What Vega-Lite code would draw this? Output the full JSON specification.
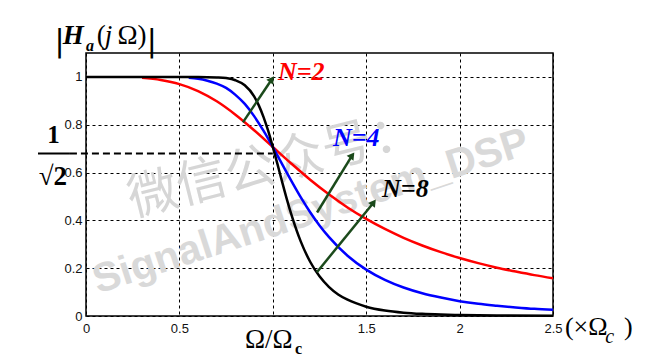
{
  "$schema": "https://vega.github.io/schema/vega-lite/v6.json",
  "width": 467,
  "height": 263,
  "autosize": {"type": "none"},
  "padding": {"left": 86, "top": 53, "right": 100, "bottom": 45},
  "background": "white",
  "config": {"view": {"stroke": "black", "strokeWidth": 1.5}},
  "datasets": {
    "curves": [
      {"N": "N=2", "x": 0.3, "y": 0.996}, {"N": "N=2", "x": 0.4, "y": 0.987}, {"N": "N=2", "x": 0.5, "y": 0.970},
      {"N": "N=2", "x": 0.6, "y": 0.941}, {"N": "N=2", "x": 0.7, "y": 0.898}, {"N": "N=2", "x": 0.8, "y": 0.842},
      {"N": "N=2", "x": 0.9, "y": 0.777}, {"N": "N=2", "x": 1.0, "y": 0.707}, {"N": "N=2", "x": 1.1, "y": 0.637},
      {"N": "N=2", "x": 1.2, "y": 0.570}, {"N": "N=2", "x": 1.3, "y": 0.509}, {"N": "N=2", "x": 1.4, "y": 0.454},
      {"N": "N=2", "x": 1.5, "y": 0.406}, {"N": "N=2", "x": 1.6, "y": 0.364}, {"N": "N=2", "x": 1.7, "y": 0.327},
      {"N": "N=2", "x": 1.8, "y": 0.295}, {"N": "N=2", "x": 1.9, "y": 0.267}, {"N": "N=2", "x": 2.0, "y": 0.2425},
      {"N": "N=2", "x": 2.1, "y": 0.221}, {"N": "N=2", "x": 2.2, "y": 0.202}, {"N": "N=2", "x": 2.3, "y": 0.186},
      {"N": "N=2", "x": 2.4, "y": 0.171}, {"N": "N=2", "x": 2.5, "y": 0.158},
      {"N": "N=4", "x": 0.55, "y": 0.996}, {"N": "N=4", "x": 0.6, "y": 0.992}, {"N": "N=4", "x": 0.65, "y": 0.984},
      {"N": "N=4", "x": 0.7, "y": 0.972}, {"N": "N=4", "x": 0.75, "y": 0.954}, {"N": "N=4", "x": 0.8, "y": 0.925},
      {"N": "N=4", "x": 0.85, "y": 0.887}, {"N": "N=4", "x": 0.9, "y": 0.836}, {"N": "N=4", "x": 0.95, "y": 0.775},
      {"N": "N=4", "x": 0.975, "y": 0.742}, {"N": "N=4", "x": 1.0, "y": 0.707}, {"N": "N=4", "x": 1.025, "y": 0.671},
      {"N": "N=4", "x": 1.05, "y": 0.635}, {"N": "N=4", "x": 1.1, "y": 0.564}, {"N": "N=4", "x": 1.15, "y": 0.496},
      {"N": "N=4", "x": 1.2, "y": 0.434}, {"N": "N=4", "x": 1.25, "y": 0.379}, {"N": "N=4", "x": 1.3, "y": 0.331},
      {"N": "N=4", "x": 1.4, "y": 0.252}, {"N": "N=4", "x": 1.5, "y": 0.194}, {"N": "N=4", "x": 1.6, "y": 0.151},
      {"N": "N=4", "x": 1.7, "y": 0.119}, {"N": "N=4", "x": 1.8, "y": 0.095}, {"N": "N=4", "x": 1.9, "y": 0.077},
      {"N": "N=4", "x": 2.0, "y": 0.062}, {"N": "N=4", "x": 2.1, "y": 0.051}, {"N": "N=4", "x": 2.2, "y": 0.043},
      {"N": "N=4", "x": 2.3, "y": 0.036}, {"N": "N=4", "x": 2.4, "y": 0.030}, {"N": "N=4", "x": 2.5, "y": 0.026},
      {"N": "N=8", "x": 0.0, "y": 1.0}, {"N": "N=8", "x": 0.5, "y": 1.0}, {"N": "N=8", "x": 0.6, "y": 1.0},
      {"N": "N=8", "x": 0.7, "y": 0.998}, {"N": "N=8", "x": 0.75, "y": 0.995}, {"N": "N=8", "x": 0.8, "y": 0.986},
      {"N": "N=8", "x": 0.85, "y": 0.965}, {"N": "N=8", "x": 0.9, "y": 0.919}, {"N": "N=8", "x": 0.925, "y": 0.881},
      {"N": "N=8", "x": 0.95, "y": 0.833}, {"N": "N=8", "x": 0.975, "y": 0.775}, {"N": "N=8", "x": 1.0, "y": 0.707},
      {"N": "N=8", "x": 1.025, "y": 0.635}, {"N": "N=8", "x": 1.05, "y": 0.561}, {"N": "N=8", "x": 1.075, "y": 0.489},
      {"N": "N=8", "x": 1.1, "y": 0.423}, {"N": "N=8", "x": 1.15, "y": 0.311}, {"N": "N=8", "x": 1.2, "y": 0.227},
      {"N": "N=8", "x": 1.25, "y": 0.166}, {"N": "N=8", "x": 1.3, "y": 0.122}, {"N": "N=8", "x": 1.35, "y": 0.090},
      {"N": "N=8", "x": 1.4, "y": 0.068}, {"N": "N=8", "x": 1.5, "y": 0.039}, {"N": "N=8", "x": 1.6, "y": 0.023},
      {"N": "N=8", "x": 1.7, "y": 0.014}, {"N": "N=8", "x": 1.8, "y": 0.009}, {"N": "N=8", "x": 1.9, "y": 0.006},
      {"N": "N=8", "x": 2.0, "y": 0.004}, {"N": "N=8", "x": 2.2, "y": 0.002}, {"N": "N=8", "x": 2.5, "y": 0.001}
    ],
    "arrows": [
      {"x": 0.84, "y": 0.81, "x2": 0.995, "y2": 0.99},
      {"x": 1.237, "y": 0.433, "x2": 1.425, "y2": 0.672},
      {"x": 1.236, "y": 0.183, "x2": 1.54, "y2": 0.475}
    ],
    "labels": [
      {"N": "N=2", "x": 1.028, "y": 1.02, "text": "N=2"},
      {"N": "N=4", "x": 1.322, "y": 0.746, "text": "N=4"},
      {"N": "N=8", "x": 1.585, "y": 0.533, "text": "N=8"}
    ]
  },
  "encoding": {
    "x": {"field": "x", "type": "quantitative",
      "scale": {"domain": [0, 2.5], "nice": false, "zero": false},
      "axis": {"values": [0, 0.5, 1, 1.5, 2, 2.5], "title": null, "grid": true, "gridDash": [3, 3], "gridColor": "black", "gridOpacity": 1, "gridWidth": 1,
        "domain": false, "ticks": false, "labelFont": "Liberation Sans", "labelFontSize": 13, "labelColor": "#111", "labelPadding": 6,
        "labelFlush": false, "labelOverlap": false, "labelExpr": "datum.value == 0 ? '0' : datum.value == 1 ? '' : format(datum.value, '.1~f')"}},
    "y": {"field": "y", "type": "quantitative",
      "scale": {"domain": [0, 1.1], "nice": false, "zero": false},
      "axis": {"values": [0, 0.2, 0.4, 0.6, 0.8, 1], "title": null, "grid": true, "gridDash": [3, 3], "gridColor": "black", "gridOpacity": 1, "gridWidth": 1,
        "domain": false, "ticks": false, "labelFont": "Liberation Sans", "labelFontSize": 13, "labelColor": "#111", "labelPadding": 4,
        "labelFlush": false, "labelOverlap": false, "labelExpr": "datum.value == 0 ? '0' : format(datum.value, '.1~f')"}}
  },
  "layer": [
    {"data": {"values": [{"x": 1.01, "y": 0.63, "text": "微信公众号："}]},
     "mark": {"type": "text", "font": "Noto Sans CJK SC", "fontSize": 50, "angle": 346, "color": "#d6d6d6", "align": "center", "baseline": "middle"},
     "encoding": {"text": {"field": "text"}}},
    {"data": {"values": [{"x": 1.205, "y": 0.435, "text": "SignalAndSystem_DSP"}]},
     "mark": {"type": "text", "font": "Liberation Sans", "fontWeight": "bold", "fontSize": 41, "angle": 342, "color": "#d9d9d9", "align": "center", "baseline": "middle"},
     "encoding": {"text": {"field": "text"}}},
    {"data": {"values": [{"x": -0.086, "x2": 1.0, "y": 0.68}]},
     "mark": {"type": "rule", "color": "black", "strokeWidth": 2, "strokeDash": [7, 4]},
     "encoding": {"x2": {"field": "x2"}}},
    {"data": {"values": [{"x": -0.257, "x2": -0.086, "y": 0.68}]},
     "mark": {"type": "rule", "color": "black", "strokeWidth": 2},
     "encoding": {"x2": {"field": "x2"}}},
    {"data": {"name": "curves"},
     "mark": {"type": "line", "strokeWidth": 2.5, "interpolate": "monotone"},
     "encoding": {"color": {"field": "N", "type": "nominal", "scale": {"domain": ["N=2", "N=4", "N=8"], "range": ["#ff0000", "#0000ff", "#000000"]}, "legend": null},
       "order": {"field": "x", "type": "quantitative"}}},
    {"data": {"name": "arrows"},
     "mark": {"type": "rule", "color": "#1b4a1b", "strokeWidth": 2.5},
     "encoding": {"x2": {"field": "x2"}, "y2": {"field": "y2"}}},
    {"data": {"name": "arrows"},
     "mark": {"type": "point", "shape": "triangle-up", "filled": true, "color": "#1b4a1b", "opacity": 1, "size": 70, "angle": 36},
     "encoding": {"x": {"field": "x2", "type": "quantitative"}, "y": {"field": "y2", "type": "quantitative"}}},
    {"data": {"name": "labels"},
     "mark": {"type": "text", "font": "Liberation Serif", "fontWeight": "bold", "fontStyle": "italic", "fontSize": 26, "align": "left", "baseline": "middle"},
     "encoding": {"text": {"field": "text"}, "color": {"field": "N", "type": "nominal", "legend": null}}},
    {"data": {"values": [{"x": -0.174, "y": 0.725, "text": "1"}]},
     "mark": {"type": "text", "font": "Liberation Serif", "fontWeight": "bold", "fontSize": 25, "align": "center", "baseline": "alphabetic", "color": "black"},
     "encoding": {"text": {"field": "text"}}},
    {"data": {"values": [{"x": -0.177, "y": 0.55, "text": "√2"}]},
     "mark": {"type": "text", "font": "Liberation Serif", "fontWeight": "bold", "fontSize": 27, "align": "center", "baseline": "alphabetic", "color": "black"},
     "encoding": {"text": {"field": "text"}}},
    {"data": {"values": [{"x": -0.168, "y": 1.108, "text": "|"}, {"x": 0.325, "y": 1.108, "text": "|"}]},
     "mark": {"type": "text", "font": "DejaVu Sans", "fontSize": 30, "align": "left", "baseline": "alphabetic", "color": "black"},
     "encoding": {"text": {"field": "text"}}},
    {"data": {"values": [{"x": -0.125, "y": 1.1375, "text": "H"}]},
     "mark": {"type": "text", "font": "Liberation Serif", "fontWeight": "bold", "fontStyle": "italic", "fontSize": 27, "align": "left", "baseline": "alphabetic", "color": "black"},
     "encoding": {"text": {"field": "text"}}},
    {"data": {"values": [{"x": 0.0, "y": 1.11, "text": "a"}]},
     "mark": {"type": "text", "font": "Liberation Serif", "fontWeight": "bold", "fontStyle": "italic", "fontSize": 16, "align": "left", "baseline": "alphabetic", "color": "black"},
     "encoding": {"text": {"field": "text"}}},
    {"data": {"values": [{"x": 1.119, "y": -0.16, "text": "c"}]},
     "mark": {"type": "text", "font": "Liberation Serif", "fontWeight": "bold", "fontSize": 16, "align": "left", "baseline": "alphabetic", "color": "black"},
     "encoding": {"text": {"field": "text"}}},
    {"data": {"values": [{"x": 0.057, "y": 1.1375, "text": "("}, {"x": 0.168, "y": 1.1375, "text": "Ω)"}]},
     "mark": {"type": "text", "font": "Liberation Serif", "fontSize": 27, "align": "left", "baseline": "alphabetic", "color": "black"},
     "encoding": {"text": {"field": "text"}}},
    {"data": {"values": [{"x": 0.1, "y": 1.1375, "text": "j"}]},
     "mark": {"type": "text", "font": "Liberation Serif", "fontStyle": "italic", "fontSize": 27, "align": "left", "baseline": "alphabetic", "color": "black"},
     "encoding": {"text": {"field": "text"}}},
    {"data": {"values": [{"x": 0.851, "y": -0.133, "text": "Ω/Ω"}]},
     "mark": {"type": "text", "font": "Liberation Serif", "fontSize": 27, "align": "left", "baseline": "alphabetic", "color": "black"},
     "encoding": {"text": {"field": "text"}}},
    {"data": {"values": [{"x": 2.564, "y": -0.079, "text": "(×Ω"}, {"x": 2.88, "y": -0.079, "text": ")"}]},
     "mark": {"type": "text", "font": "Liberation Serif", "fontSize": 26, "align": "left", "baseline": "alphabetic", "color": "black"},
     "encoding": {"text": {"field": "text"}}},
    {"data": {"values": [{"x": 2.78, "y": -0.113, "text": "c"}]},
     "mark": {"type": "text", "font": "Liberation Serif", "fontStyle": "italic", "fontSize": 20, "align": "left", "baseline": "alphabetic", "color": "black"},
     "encoding": {"text": {"field": "text"}}}
  ]
}
